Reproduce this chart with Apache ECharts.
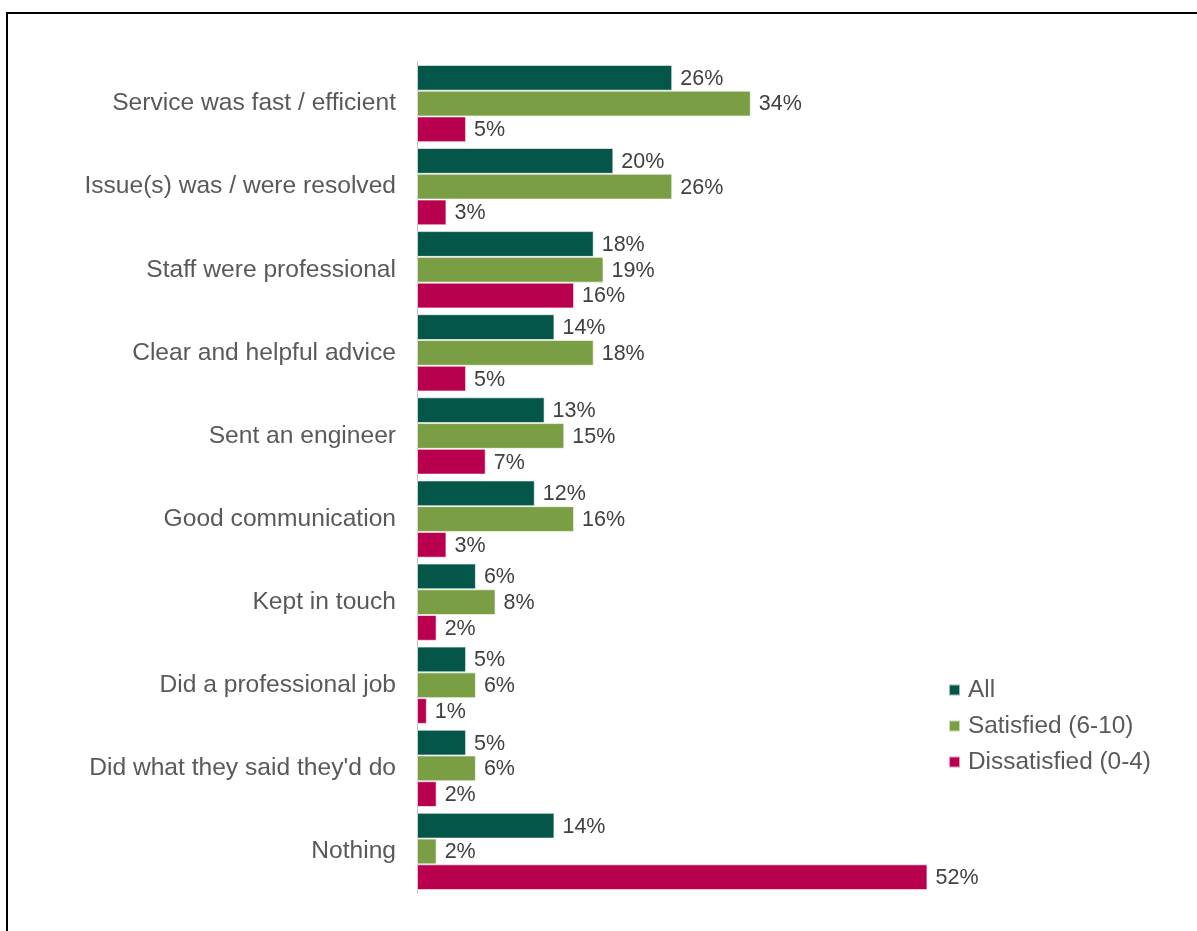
<!DOCTYPE html>
<html>
<head>
<meta charset="utf-8">
<script src="https://cdn.jsdelivr.net/npm/echarts@6/dist/echarts.min.js"></script>
<style>
  html, body { margin: 0; padding: 0; background: #fff; }
  #wrap { position: relative; width: 1197px; height: 931px; overflow: hidden; }
  #frame { position: absolute; left: 6px; top: 12px; right: -10px; bottom: -10px;
           border-left: 2px solid #000; border-top: 2px solid #000; pointer-events: none; }
  #chart { position: absolute; left: 0; top: 0; width: 1197px; height: 931px; }
</style>
</head>
<body>
<div id="wrap">
  <div id="chart"></div>
  <div id="frame"></div>
</div>
<script>
const categories = [
  'Service was fast / efficient',
  'Issue(s) was / were resolved',
  'Staff were professional',
  'Clear and helpful advice',
  'Sent an engineer',
  'Good communication',
  'Kept in touch',
  'Did a professional job',
  "Did what they said they'd do",
  'Nothing'
];
const allValues = [26, 20, 18, 14, 13, 12, 6, 5, 5, 14];
const satisfiedValues = [34, 26, 19, 18, 15, 16, 8, 6, 6, 2];
const dissatisfiedValues = [5, 3, 16, 5, 7, 3, 2, 1, 2, 52];
const seriesNames = ['All', 'Satisfied (6-10)', 'Dissatisfied (0-4)'];
const seriesColors = ['#045648', '#7a9e43', '#b9004e'];

const chart = echarts.init(document.getElementById('chart'), null, { renderer: 'canvas' });

const font = 'Arial, "Liberation Sans", sans-serif';

function barSeries(name, data, color) {
  return {
    name: name,
    type: 'bar',
    data: data,
    barGap: '0%',
    barCategoryGap: '7%',
    itemStyle: { color: color, borderColor: 'rgba(255,255,255,0.6)', borderWidth: 1 },
    label: {
      show: true,
      position: 'right',
      distance: 8,
      offset: [0, 1],
      formatter: '{c}%',
      color: '#404040',
      fontFamily: font,
      fontSize: 21.5
    }
  };
}

chart.setOption({
  animation: false,
  textStyle: { fontFamily: font },
  grid: { left: 417, top: 62, width: 589, height: 831, containLabel: false },
  legend: {
    orient: 'vertical',
    left: 943,
    top: 673,
    itemWidth: 11,
    itemHeight: 11,
    itemGap: 12,
    icon: 'rect',
    data: seriesNames,
    textStyle: { color: '#595959', fontSize: 24.4, fontFamily: font, padding: [0, 0, 0, 3] }
  },
  xAxis: {
    type: 'value',
    min: 0,
    max: 60,
    show: false
  },
  yAxis: {
    type: 'category',
    data: categories,
    inverse: true,
    axisLine: { show: true, lineStyle: { color: '#bfbfbf', width: 1 } },
    axisTick: { show: false },
    axisLabel: {
      color: '#595959',
      fontSize: 24.6,
      fontFamily: font,
      margin: 21
    }
  },
  series: [
    barSeries(seriesNames[0], allValues, seriesColors[0]),
    barSeries(seriesNames[1], satisfiedValues, seriesColors[1]),
    barSeries(seriesNames[2], dissatisfiedValues, seriesColors[2])
  ]
});
</script>
</body>
</html>
